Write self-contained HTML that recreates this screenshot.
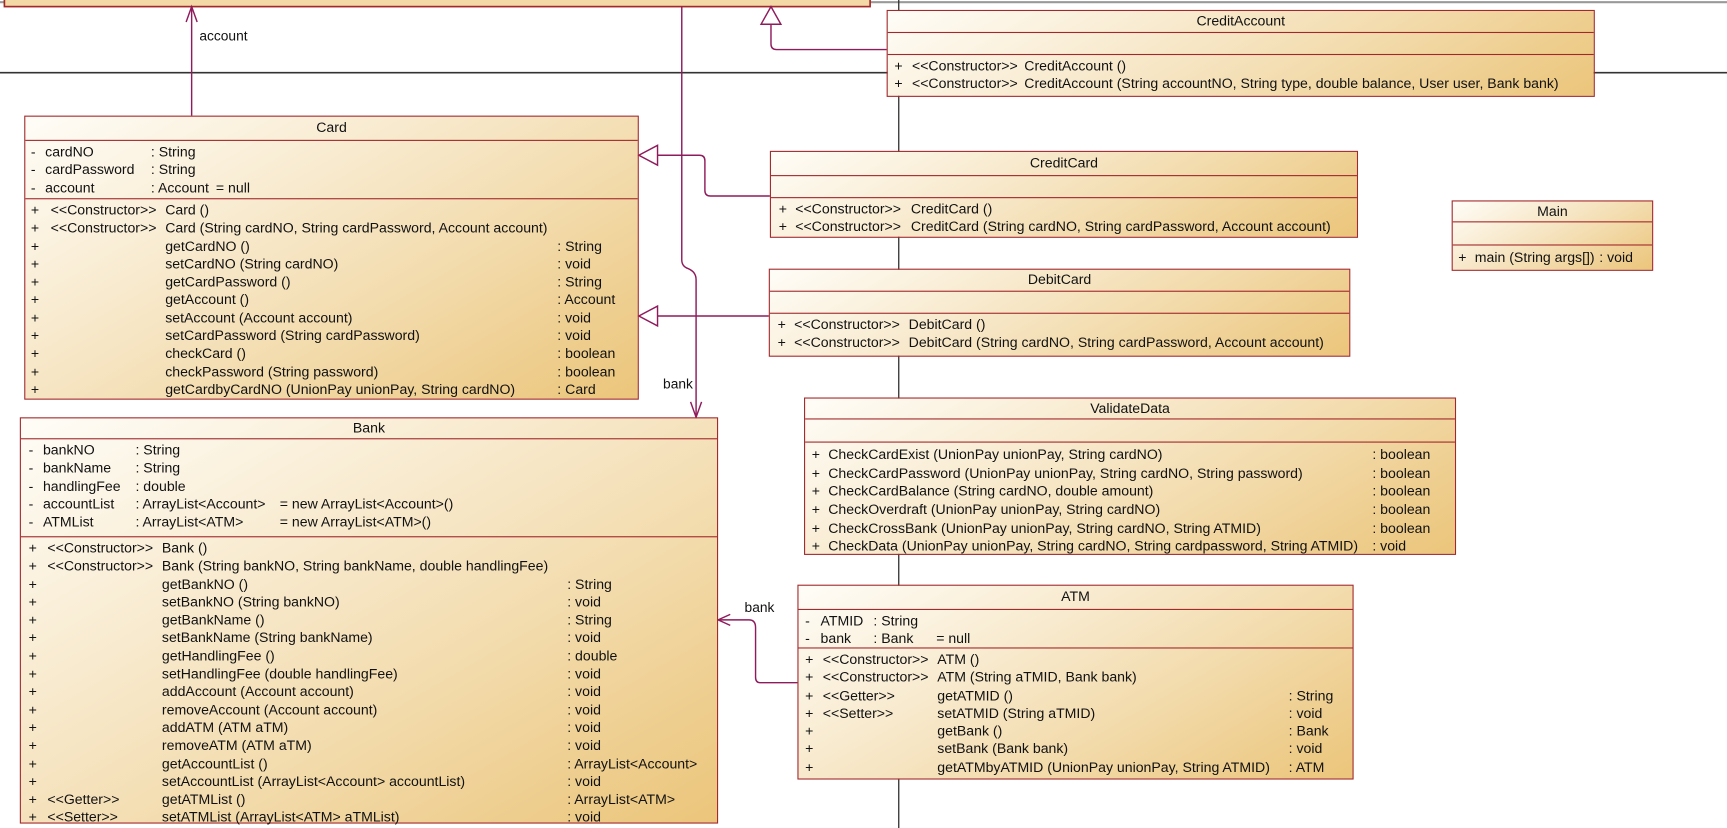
<!DOCTYPE html>
<html><head><meta charset="utf-8"><style>
html,body{margin:0;padding:0;background:#fff;overflow:hidden}
#w{position:relative;width:1568px;height:752px;transform:scale(1.10140,1.10106);transform-origin:0 0;font-family:"Liberation Sans",Arial,sans-serif;font-size:12.8px;color:#111}
.box{position:absolute;border:1.5px solid #a3282b;background:linear-gradient(150deg,#fffdf8 0%,#f6e5c3 45%,#ebc57a 100%);box-sizing:border-box}
.h{border-bottom:1.5px solid #a3282b;text-align:center;box-sizing:border-box}
.s{border-bottom:1.5px solid #a3282b;box-sizing:border-box;padding-top:2px}
.s:last-child{border-bottom:none}
.r{position:relative;height:16.3px}
.r span{position:absolute;top:0;white-space:nowrap;line-height:16px}
.lbl{position:absolute;white-space:nowrap;font-size:12.5px}
</style></head><body><div id="w">
<svg width="1568" height="752" style="position:absolute;left:0;top:0">
<line x1="0" y1="2" x2="1568" y2="2" stroke="#999" stroke-width="2"/>
<line x1="0" y1="66" x2="1568" y2="66" stroke="#333" stroke-width="1.5"/>
<line x1="816" y1="0" x2="816" y2="752" stroke="#333" stroke-width="1.2"/>
<rect x="4" y="-10" width="786" height="16" fill="#f3d9a6" stroke="#a3282b" stroke-width="1.5"/>
<g stroke="#8e1b5c" stroke-width="1.3" fill="none">
<line x1="174" y1="105" x2="174" y2="6"/>
<polyline points="169,20 174,6 179,20"/>
<path d="M619,6 V236 Q619,242 625,244 Q632,247 632,254 V379"/>
<polyline points="627,365 632,379 637,365"/>
<path d="M805,45 H705 Q700,45 700,40 V22"/>
<polygon points="700,6 691,22 709,22" fill="#fff"/>
<path d="M699,178 H645 Q640,178 640,173 V146 Q640,141 635,141 H597"/>
<polygon points="580,141 597,132 597,150" fill="#fff"/>
<line x1="698" y1="287" x2="597" y2="287"/>
<polygon points="580,287 597,278 597,296" fill="#fff"/>
<path d="M724,620 H690 Q686,620 686,615 V570 Q686,563 680,563 H652"/>
<polyline points="663,558 652,563 663,568"/>
</g>
</svg>
<div class="lbl" style="left:181px;top:26px">account</div>
<div class="lbl" style="left:602px;top:342px">bank</div>
<div class="lbl" style="left:676px;top:545px">bank</div>

<!-- CreditAccount -->
<div class="box" style="left:805px;top:9px;width:643px;height:79px">
<div class="h" style="height:20px;line-height:18px">CreditAccount</div>
<div class="s" style="height:20px"></div>
<div class="s">
<div class="r"><span style="left:6px">+</span><span style="left:22px">&lt;&lt;Constructor&gt;&gt;</span><span style="left:124px">CreditAccount ()</span></div>
<div class="r"><span style="left:6px">+</span><span style="left:22px">&lt;&lt;Constructor&gt;&gt;</span><span style="left:124px">CreditAccount (String accountNO, String type, double balance, User user, Bank bank)</span></div>
</div></div>

<!-- Card -->
<div class="box" style="left:22px;top:105px;width:558px;height:258px">
<div class="h" style="height:22px;line-height:20px">Card</div>
<div class="s" style="height:53px">
<div class="r"><span style="left:5px">-</span><span style="left:18px">cardNO</span><span style="left:114px">: String</span></div>
<div class="r"><span style="left:5px">-</span><span style="left:18px">cardPassword</span><span style="left:114px">: String</span></div>
<div class="r"><span style="left:5px">-</span><span style="left:18px">account</span><span style="left:114px">: Account</span><span style="left:173px">= null</span></div>
</div>
<div class="s">
<div class="r"><span style="left:5px">+</span><span style="left:23px">&lt;&lt;Constructor&gt;&gt;</span><span style="left:127px">Card ()</span></div>
<div class="r"><span style="left:5px">+</span><span style="left:23px">&lt;&lt;Constructor&gt;&gt;</span><span style="left:127px">Card (String cardNO, String cardPassword, Account account)</span></div>
<div class="r"><span style="left:5px">+</span><span style="left:127px">getCardNO ()</span><span style="left:483px">: String</span></div>
<div class="r"><span style="left:5px">+</span><span style="left:127px">setCardNO (String cardNO)</span><span style="left:483px">: void</span></div>
<div class="r"><span style="left:5px">+</span><span style="left:127px">getCardPassword ()</span><span style="left:483px">: String</span></div>
<div class="r"><span style="left:5px">+</span><span style="left:127px">getAccount ()</span><span style="left:483px">: Account</span></div>
<div class="r"><span style="left:5px">+</span><span style="left:127px">setAccount (Account account)</span><span style="left:483px">: void</span></div>
<div class="r"><span style="left:5px">+</span><span style="left:127px">setCardPassword (String cardPassword)</span><span style="left:483px">: void</span></div>
<div class="r"><span style="left:5px">+</span><span style="left:127px">checkCard ()</span><span style="left:483px">: boolean</span></div>
<div class="r"><span style="left:5px">+</span><span style="left:127px">checkPassword (String password)</span><span style="left:483px">: boolean</span></div>
<div class="r"><span style="left:5px">+</span><span style="left:127px">getCardbyCardNO (UnionPay unionPay, String cardNO)</span><span style="left:483px">: Card</span></div>
</div></div>

<!-- CreditCard -->
<div class="box" style="left:699px;top:137px;width:534px;height:79px">
<div class="h" style="height:22px;line-height:20px">CreditCard</div>
<div class="s" style="height:20px"></div>
<div class="s">
<div class="r"><span style="left:7px">+</span><span style="left:22px">&lt;&lt;Constructor&gt;&gt;</span><span style="left:127px">CreditCard ()</span></div>
<div class="r"><span style="left:7px">+</span><span style="left:22px">&lt;&lt;Constructor&gt;&gt;</span><span style="left:127px">CreditCard (String cardNO, String cardPassword, Account account)</span></div>
</div></div>

<!-- DebitCard -->
<div class="box" style="left:698px;top:244px;width:528px;height:80px">
<div class="h" style="height:20px;line-height:18px">DebitCard</div>
<div class="s" style="height:20px"></div>
<div class="s">
<div class="r"><span style="left:7px">+</span><span style="left:22px">&lt;&lt;Constructor&gt;&gt;</span><span style="left:126px">DebitCard ()</span></div>
<div class="r"><span style="left:7px">+</span><span style="left:22px">&lt;&lt;Constructor&gt;&gt;</span><span style="left:126px">DebitCard (String cardNO, String cardPassword, Account account)</span></div>
</div></div>

<!-- Main -->
<div class="box" style="left:1318px;top:182px;width:183px;height:64px">
<div class="h" style="height:19px;line-height:17px">Main</div>
<div class="s" style="height:21px"></div>
<div class="s" style="padding-top:3px">
<div class="r"><span style="left:5px">+</span><span style="left:20px">main (String args[])</span><span style="left:133px">: void</span></div>
</div></div>

<!-- ValidateData -->
<div class="box" style="left:730px;top:361px;width:592px;height:143px">
<div class="h" style="height:19px;line-height:17px">ValidateData</div>
<div class="s" style="height:21px"></div>
<div class="s" style="padding-top:3px">
<div class="r" style="height:16.7px"><span style="left:6px">+</span><span style="left:21px">CheckCardExist (UnionPay unionPay, String cardNO)</span><span style="left:515px">: boolean</span></div>
<div class="r" style="height:16.7px"><span style="left:6px">+</span><span style="left:21px">CheckCardPassword (UnionPay unionPay, String cardNO, String password)</span><span style="left:515px">: boolean</span></div>
<div class="r" style="height:16.7px"><span style="left:6px">+</span><span style="left:21px">CheckCardBalance (String cardNO, double amount)</span><span style="left:515px">: boolean</span></div>
<div class="r" style="height:16.7px"><span style="left:6px">+</span><span style="left:21px">CheckOverdraft (UnionPay unionPay, String cardNO)</span><span style="left:515px">: boolean</span></div>
<div class="r" style="height:16.7px"><span style="left:6px">+</span><span style="left:21px">CheckCrossBank (UnionPay unionPay, String cardNO, String ATMID)</span><span style="left:515px">: boolean</span></div>
<div class="r" style="height:16.7px"><span style="left:6px">+</span><span style="left:21px">CheckData (UnionPay unionPay, String cardNO, String cardpassword, String ATMID)</span><span style="left:515px">: void</span></div>
</div></div>

<!-- ATM -->
<div class="box" style="left:724px;top:531px;width:505px;height:177px">
<div class="h" style="height:22px;line-height:20px">ATM</div>
<div class="s" style="height:35px">
<div class="r"><span style="left:6px">-</span><span style="left:20px">ATMID</span><span style="left:68px">: String</span></div>
<div class="r"><span style="left:6px">-</span><span style="left:20px">bank</span><span style="left:68px">: Bank</span><span style="left:125px">= null</span></div>
</div>
<div class="s">
<div class="r"><span style="left:6px">+</span><span style="left:22px">&lt;&lt;Constructor&gt;&gt;</span><span style="left:126px">ATM ()</span></div>
<div class="r"><span style="left:6px">+</span><span style="left:22px">&lt;&lt;Constructor&gt;&gt;</span><span style="left:126px">ATM (String aTMID, Bank bank)</span></div>
<div class="r"><span style="left:6px">+</span><span style="left:22px">&lt;&lt;Getter&gt;&gt;</span><span style="left:126px">getATMID ()</span><span style="left:445px">: String</span></div>
<div class="r"><span style="left:6px">+</span><span style="left:22px">&lt;&lt;Setter&gt;&gt;</span><span style="left:126px">setATMID (String aTMID)</span><span style="left:445px">: void</span></div>
<div class="r"><span style="left:6px">+</span><span style="left:126px">getBank ()</span><span style="left:445px">: Bank</span></div>
<div class="r"><span style="left:6px">+</span><span style="left:126px">setBank (Bank bank)</span><span style="left:445px">: void</span></div>
<div class="r"><span style="left:6px">+</span><span style="left:126px">getATMbyATMID (UnionPay unionPay, String ATMID)</span><span style="left:445px">: ATM</span></div>
</div></div>

<!-- Bank -->
<div class="box" style="left:18px;top:379px;width:634px;height:369px">
<div class="h" style="height:19px;line-height:17px">Bank</div>
<div class="s" style="height:89px">
<div class="r"><span style="left:7px">-</span><span style="left:20px">bankNO</span><span style="left:104px">: String</span></div>
<div class="r"><span style="left:7px">-</span><span style="left:20px">bankName</span><span style="left:104px">: String</span></div>
<div class="r"><span style="left:7px">-</span><span style="left:20px">handlingFee</span><span style="left:104px">: double</span></div>
<div class="r"><span style="left:7px">-</span><span style="left:20px">accountList</span><span style="left:104px">: ArrayList&lt;Account&gt;</span><span style="left:235px">= new ArrayList&lt;Account&gt;()</span></div>
<div class="r"><span style="left:7px">-</span><span style="left:20px">ATMList</span><span style="left:104px">: ArrayList&lt;ATM&gt;</span><span style="left:235px">= new ArrayList&lt;ATM&gt;()</span></div>
</div>
<div class="s">
<div class="r"><span style="left:7px">+</span><span style="left:24px">&lt;&lt;Constructor&gt;&gt;</span><span style="left:128px">Bank ()</span></div>
<div class="r"><span style="left:7px">+</span><span style="left:24px">&lt;&lt;Constructor&gt;&gt;</span><span style="left:128px">Bank (String bankNO, String bankName, double handlingFee)</span></div>
<div class="r"><span style="left:7px">+</span><span style="left:128px">getBankNO ()</span><span style="left:496px">: String</span></div>
<div class="r"><span style="left:7px">+</span><span style="left:128px">setBankNO (String bankNO)</span><span style="left:496px">: void</span></div>
<div class="r"><span style="left:7px">+</span><span style="left:128px">getBankName ()</span><span style="left:496px">: String</span></div>
<div class="r"><span style="left:7px">+</span><span style="left:128px">setBankName (String bankName)</span><span style="left:496px">: void</span></div>
<div class="r"><span style="left:7px">+</span><span style="left:128px">getHandlingFee ()</span><span style="left:496px">: double</span></div>
<div class="r"><span style="left:7px">+</span><span style="left:128px">setHandlingFee (double handlingFee)</span><span style="left:496px">: void</span></div>
<div class="r"><span style="left:7px">+</span><span style="left:128px">addAccount (Account account)</span><span style="left:496px">: void</span></div>
<div class="r"><span style="left:7px">+</span><span style="left:128px">removeAccount (Account account)</span><span style="left:496px">: void</span></div>
<div class="r"><span style="left:7px">+</span><span style="left:128px">addATM (ATM aTM)</span><span style="left:496px">: void</span></div>
<div class="r"><span style="left:7px">+</span><span style="left:128px">removeATM (ATM aTM)</span><span style="left:496px">: void</span></div>
<div class="r"><span style="left:7px">+</span><span style="left:128px">getAccountList ()</span><span style="left:496px">: ArrayList&lt;Account&gt;</span></div>
<div class="r"><span style="left:7px">+</span><span style="left:128px">setAccountList (ArrayList&lt;Account&gt; accountList)</span><span style="left:496px">: void</span></div>
<div class="r"><span style="left:7px">+</span><span style="left:24px">&lt;&lt;Getter&gt;&gt;</span><span style="left:128px">getATMList ()</span><span style="left:496px">: ArrayList&lt;ATM&gt;</span></div>
<div class="r"><span style="left:7px">+</span><span style="left:24px">&lt;&lt;Setter&gt;&gt;</span><span style="left:128px">setATMList (ArrayList&lt;ATM&gt; aTMList)</span><span style="left:496px">: void</span></div>
</div></div>
</div></body></html>
